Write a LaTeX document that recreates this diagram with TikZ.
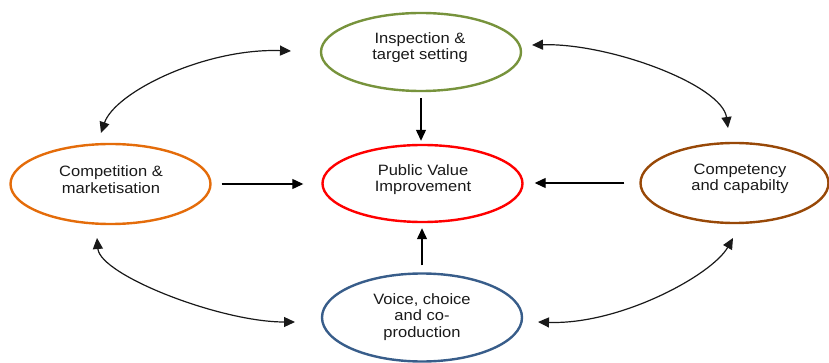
\documentclass[tikz,border=0pt]{standalone}
\usepackage{fontspec}
\setmainfont[FakeStretch=1.1]{Liberation Sans}
\usetikzlibrary{shapes.geometric,arrows.meta}
\definecolor{cgreen}{RGB}{119,147,60}
\definecolor{cred}{RGB}{255,0,0}
\definecolor{corange}{RGB}{228,108,10}
\definecolor{cbrown}{RGB}{152,72,7}
\definecolor{cblue}{RGB}{56,93,138}
\tikzset{
  ell/.style={ellipse, line width=2.4pt, inner sep=0pt, minimum width=200pt, minimum height=78pt},
  lbl/.style={align=center, font=\fontsize{15}{16.5}\selectfont, text=black!90, inner sep=0pt},
  arr/.style={-{Triangle[length=11pt,width=10pt]}, line width=1.2pt, black},
  dbl/.style={{Triangle[length=11pt,width=10pt]}-{Triangle[length=11pt,width=10pt]}, line width=1.2pt, black!90},
}
\begin{document}
\begin{tikzpicture}[x=1pt,y=1pt]
\useasboundingbox (0,0) rectangle (829,-363);
% ellipses
\node[ell, draw=cgreen] (top) at (421,-52) {};
\node[ell, draw=cred, minimum height=77pt] (mid) at (422.5,-183.5) {};
\node[ell, draw=corange, minimum height=80pt] (left) at (110.5,-184) {};
\node[ell, draw=cbrown, minimum width=188pt, minimum height=80pt] (right) at (734.5,-183) {};
\node[ell, draw=cblue, minimum height=88pt] (bot) at (422,-317.5) {};
% labels
\node[lbl] (toptext) at (420,-47.5) {Inspection \&\\target setting};
\node[lbl] (midtext) at (423,-179.5) {Public Value\\Improvement};
\node[lbl] (lefttext) at (111,-179.5) {Competition \&\\marketisation};
\node[lbl] (righttext) at (740,-179) {Competency\\and capabilty};
\node[lbl] (bottext) at (422,-317) {Voice, choice\\and co-\\production};
% straight arrows
\draw[arr, shorten <=6pt, shorten >=3pt] (top.south) -- (top.south |- mid.north);
\draw[arr, shorten <=10pt, shorten >=18pt] (left.east) -- (left.east -| mid.west);
\draw[arr, shorten <=15pt, shorten >=11pt] (right.west) -- (right.west -| mid.east);
\draw[arr, shorten <=7pt, shorten >=5pt] (bot.north) -- (bot.north |- mid.south);
% curved double arrows
\coordinate (tlA) at (291,-51);
\coordinate (tlB) at (101,-133);
\coordinate (trA) at (532,-45);
\coordinate (trB) at (728,-128);
\coordinate (blA) at (97,-238);
\coordinate (blB) at (295,-322);
\coordinate (brA) at (538,-322);
\coordinate (brB) at (733,-238);
\draw[dbl] (tlA) .. controls (205,-48) and (115,-92) .. (tlB);
\draw[dbl] (trA) .. controls (610,-43) and (722,-85) .. (trB);
\draw[dbl] (blA) .. controls (100,-275) and (220,-322) .. (blB);
\draw[dbl] (brA) .. controls (620,-325) and (712,-275) .. (brB);
\end{tikzpicture}
\end{document}
